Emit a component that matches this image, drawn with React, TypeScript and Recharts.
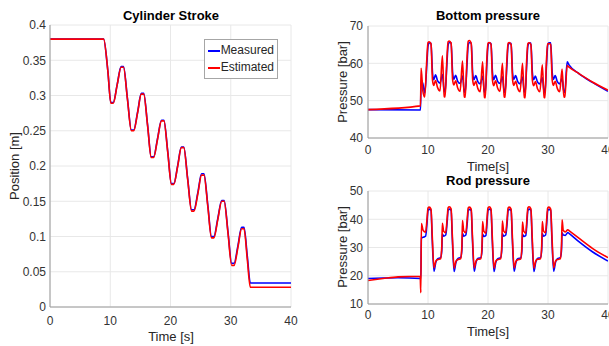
import React from 'react';
import { LineChart, Line, XAxis, YAxis, CartesianGrid, Legend } from 'recharts';

const FONT = '"Liberation Sans", Arial, Helvetica, sans-serif';
const TICK_COLOR = '#333333';
const BOX = '#9a9a9a';
const GRID = '#e8e8e8';
const BLUE = '#0000ff';
const RED = '#ff0000';

// ---------- tick labels ----------
const timeTicks = [0, 10, 20, 30, 40];
const strokeTicks = [0, 0.05, 0.1, 0.15, 0.2, 0.25, 0.3, 0.35, 0.4];
const bottomTicks = [40, 50, 60, 70];
const rodTicks = [10, 20, 30, 40, 50];
const legendOrder = ['Measured', 'Estimated'];

// ---------- Cylinder stroke ----------
const strokeTime = [0, 8.9, 9.6, 10.1, 10.5, 11.15, 11.8, 12.2, 12.85, 13.5, 13.9, 14.55, 15.15, 15.55,
  16.2, 16.8, 17.2, 17.85, 18.5, 18.9, 19.55, 20.15, 20.55, 21.2, 21.8, 22.2, 22.85, 23.5, 23.9,
  24.55, 25.15, 25.55, 26.2, 26.8, 27.2, 27.85, 28.5, 28.9, 29.55, 30.15, 30.55, 31.2, 31.8, 32.2,
  32.75, 33.25, 40];
const strokeMeasured = [0.38, 0.38, 0.335, 0.29, 0.29, 0.3155, 0.341, 0.341, 0.296, 0.251, 0.251, 0.277, 0.303, 0.303,
  0.258, 0.213, 0.213, 0.239, 0.265, 0.265, 0.22, 0.175, 0.175, 0.201, 0.227, 0.227, 0.182, 0.138, 0.138,
  0.163, 0.189, 0.189, 0.144, 0.1, 0.1, 0.1255, 0.151, 0.151, 0.106, 0.062, 0.062, 0.0875, 0.113, 0.113,
  0.072, 0.034, 0.034];
const strokeEstimated = [0.38, 0.38, 0.335, 0.289, 0.289, 0.315, 0.34, 0.34, 0.295, 0.25, 0.25, 0.276, 0.302, 0.302,
  0.257, 0.212, 0.212, 0.238, 0.264, 0.264, 0.219, 0.174, 0.174, 0.2, 0.226, 0.226, 0.181, 0.136, 0.136,
  0.161, 0.187, 0.187, 0.142, 0.098, 0.098, 0.124, 0.15, 0.15, 0.104, 0.059, 0.059, 0.085, 0.111, 0.111,
  0.067, 0.028, 0.028];

// ---------- Bottom pressure ----------
const bottomTime = [0, 8.75, 8.85, 9.15, 9.45,
  9.8, 10.0, 10.2, 10.5, 10.75, 10.95, 11.25, 11.6, 12.0, 12.4, 12.7, 12.85,
  13.15, 13.35, 13.55, 13.85, 14.1, 14.3, 14.6, 14.95, 15.35, 15.75, 16.05, 16.2,
  16.5, 16.7, 16.9, 17.2, 17.45, 17.65, 17.95, 18.3, 18.7, 19.1, 19.4, 19.55,
  19.8, 20.0, 20.2, 20.5, 20.75, 20.95, 21.25, 21.6, 22.0, 22.4, 22.7, 22.85,
  23.15, 23.35, 23.55, 23.85, 24.1, 24.3, 24.6, 24.95, 25.35, 25.75, 26.05, 26.2,
  26.45, 26.65, 26.85, 27.15, 27.4, 27.6, 27.9, 28.25, 28.65, 29.05, 29.35, 29.5,
  29.75, 29.95, 30.15, 30.45, 30.7, 30.9, 31.2, 31.55, 31.95, 32.35, 32.65, 32.8,
  33.2, 33.5, 35.2, 37.4, 40];
const bottomMeasured = [47.6, 47.5, 55.5, 54.5, 52.0,
  59.5, 64.6, 65.5, 65.4, 57.5, 55.6, 56.9, 55.3, 54.7, 57.0, 52.6, 52.3,
  59.8, 64.8, 65.6, 65.5, 57.6, 55.7, 56.8, 55.2, 54.6, 56.6, 52.5, 52.2,
  59.6, 64.9, 65.6, 65.4, 57.4, 55.6, 56.7, 55.1, 54.5, 56.5, 52.4, 52.1,
  59.5, 64.7, 65.5, 65.3, 57.5, 55.6, 56.8, 55.2, 54.6, 56.4, 52.5, 52.2,
  59.6, 64.8, 65.4, 65.3, 57.4, 55.7, 56.7, 55.1, 54.5, 56.3, 52.4, 52.2,
  59.5, 64.7, 65.4, 65.4, 57.5, 55.6, 56.6, 55.0, 54.5, 56.2, 52.4, 52.1,
  59.6, 64.8, 65.5, 65.5, 57.6, 55.7, 56.7, 55.1, 54.5, 56.0, 52.3, 52.3,
  60.4, 59.6, 57.2, 54.9, 52.5];
const bottomEstimated = [47.6, 48.6, 58.7, 52.5, 51.0,
  61.0, 65.6, 65.8, 65.2, 55.5, 54.1, 55.4, 53.5, 52.6, 62.0, 51.1, 51.0,
  61.2, 65.8, 66.0, 65.4, 55.6, 54.2, 55.3, 53.4, 52.5, 60.6, 51.0, 50.9,
  61.4, 65.9, 66.1, 65.3, 55.5, 54.1, 55.2, 53.3, 52.4, 60.4, 50.9, 50.8,
  61.0, 65.4, 65.6, 65.1, 55.4, 54.0, 55.3, 53.4, 52.5, 60.0, 51.0, 50.9,
  61.1, 65.4, 65.6, 65.0, 55.5, 54.1, 55.2, 53.3, 52.4, 60.0, 50.9, 50.8,
  61.0, 65.3, 65.5, 65.0, 55.4, 54.0, 55.1, 53.2, 52.4, 59.6, 50.9, 50.8,
  61.0, 65.2, 65.3, 65.0, 55.5, 54.1, 55.2, 53.3, 52.4, 58.5, 50.9, 51.0,
  59.4, 59.0, 57.2, 55.0, 52.8];

// ---------- Rod pressure ----------
const rodTime = [0, 2.5, 5, 8.7, 8.8, 8.9, 9.2, 9.6,
  9.85, 10.0, 10.2, 10.5, 10.7, 11.0, 11.3, 11.6, 12.1, 12.3, 12.4, 12.6, 12.95,
  13.2, 13.35, 13.55, 13.85, 14.05, 14.35, 14.65, 14.95, 15.45, 15.65, 15.75, 15.95, 16.3,
  16.55, 16.7, 16.9, 17.2, 17.4, 17.7, 18.0, 18.3, 18.8, 19.0, 19.1, 19.3, 19.65,
  19.85, 20.0, 20.2, 20.5, 20.7, 21.0, 21.3, 21.6, 22.1, 22.3, 22.4, 22.6, 22.95,
  23.2, 23.35, 23.55, 23.85, 24.05, 24.35, 24.65, 24.95, 25.45, 25.65, 25.75, 25.95, 26.3,
  26.5, 26.65, 26.85, 27.15, 27.35, 27.65, 27.95, 28.25, 28.75, 28.95, 29.05, 29.25, 29.6,
  29.8, 29.95, 30.15, 30.45, 30.65, 30.95, 31.25, 31.55, 32.05, 32.25, 32.35, 32.55, 32.9,
  33.3, 33.5, 35.2, 37.4, 40];
const rodMeasured = [19.0, 19.2, 19.3, 19.0, 18.8, 33.4, 33.6, 34.0,
  39.0, 43.0, 43.6, 43.2, 33.0, 21.6, 24.8, 26.0, 26.4, 29.0, 34.8, 34.0, 34.4,
  39.2, 43.1, 43.6, 43.2, 33.2, 21.5, 24.7, 26.0, 26.5, 29.2, 35.0, 34.0, 34.4,
  39.0, 43.0, 43.5, 43.1, 33.0, 21.6, 24.8, 26.1, 26.4, 29.0, 34.8, 33.9, 34.3,
  39.1, 43.1, 43.6, 43.2, 33.1, 21.5, 24.8, 26.0, 26.4, 29.1, 34.9, 34.0, 34.4,
  39.0, 43.0, 43.5, 43.1, 33.0, 21.6, 24.7, 26.0, 26.3, 29.0, 34.8, 33.9, 34.3,
  39.1, 43.1, 43.6, 43.2, 33.1, 21.5, 24.8, 26.1, 26.4, 29.1, 34.9, 34.0, 34.4,
  39.0, 43.0, 43.5, 43.2, 33.0, 21.6, 24.8, 26.0, 26.4, 29.0, 35.2, 34.4, 34.3,
  35.3, 35.0, 32.0, 28.5, 25.2];
const rodEstimated = [18.3, 19.0, 19.6, 19.8, 14.0, 38.5, 36.0, 35.4,
  40.5, 44.0, 44.3, 43.6, 34.5, 22.8, 25.2, 25.7, 26.0, 30.5, 38.6, 35.8, 35.2,
  40.6, 44.1, 44.4, 43.7, 34.6, 22.7, 25.1, 25.7, 26.1, 30.8, 39.5, 35.9, 35.2,
  40.5, 44.0, 44.3, 43.6, 34.5, 22.8, 25.2, 25.8, 26.0, 30.6, 39.2, 35.8, 35.1,
  40.6, 44.0, 44.4, 43.7, 34.6, 22.7, 25.2, 25.7, 26.0, 30.7, 39.4, 35.9, 35.2,
  40.5, 44.0, 44.3, 43.6, 34.5, 22.8, 25.1, 25.7, 25.9, 30.5, 39.0, 35.8, 35.1,
  40.6, 44.1, 44.4, 43.7, 34.6, 22.7, 25.2, 25.8, 26.0, 30.6, 39.2, 35.9, 35.2,
  40.5, 44.0, 44.3, 43.6, 34.5, 22.8, 25.2, 25.7, 26.0, 30.8, 39.8, 36.0, 35.5,
  36.3, 36.0, 33.2, 29.7, 26.4];

const toRows = (t: number[], m: number[], e: number[]) => t.map((x, i) => ({ t: x, m: m[i], e: e[i] }));
const strokeData = toRows(strokeTime, strokeMeasured, strokeEstimated);
const bottomData = toRows(bottomTime, bottomMeasured, bottomEstimated);
const rodData = toRows(rodTime, rodMeasured, rodEstimated);

const renderLegend = (props: any) => {
  const payload = [...(props.payload || [])].sort(
    (a: any, b: any) => legendOrder.indexOf(a.value) - legendOrder.indexOf(b.value));
  return (
    <div style={{ background: '#fff', border: '1px solid #a6a6a6', padding: '2px 3px 2px 3px', fontFamily: FONT, fontSize: 12, color: '#262626', lineHeight: '17px', boxSizing: 'border-box', width: 74 }}>
      {payload.map((p: any) => (
        <div key={p.value} style={{ display: 'flex', alignItems: 'center', whiteSpace: 'nowrap' }}>
          <span style={{ display: 'inline-block', width: 15, height: 2, background: p.color, marginRight: 1 }} />
          <span>{p.value}</span>
        </div>
      ))}
    </div>
  );
};

type PanelProps = {
  data: any[];
  width: number;
  height: number;
  margin: { top: number; right: number; bottom: number; left: number };
  yAxisWidth: number;
  yDomain: [number, number];
  yTicks: number[];
  xTickMargin: number;
  yTickMargin: number;
  legend?: boolean;
};

function Panel({ data, width, height, margin, yAxisWidth, yDomain, yTicks, xTickMargin, yTickMargin, legend }: PanelProps) {
  return (
    <LineChart width={width} height={height} data={data} margin={margin} style={{ fontFamily: FONT }}>
      <CartesianGrid stroke={GRID} strokeWidth={1} />
      <XAxis dataKey="t" type="number" domain={[0, 40]} ticks={timeTicks} allowDataOverflow interval={0}
        tickLine={false} tickSize={0} tickMargin={xTickMargin} axisLine={{ stroke: BOX }}
        tick={{ fill: TICK_COLOR, fontSize: 12, fontFamily: FONT }} height={30} />
      <XAxis xAxisId="top" orientation="top" dataKey="t" type="number" domain={[0, 40]} ticks={timeTicks}
        tick={false} tickLine={false} axisLine={{ stroke: BOX }} height={0} />
      <YAxis type="number" domain={yDomain} ticks={yTicks} allowDataOverflow interval={0}
        tickLine={false} tickSize={0} tickMargin={yTickMargin} axisLine={{ stroke: BOX }}
        tick={{ fill: TICK_COLOR, fontSize: 12, fontFamily: FONT }} width={yAxisWidth} />
      <YAxis yAxisId="right" orientation="right" type="number" domain={yDomain} ticks={yTicks}
        tick={false} tickLine={false} axisLine={{ stroke: BOX }} width={0} />
      {legend && (
        <Legend layout="vertical" align="center" verticalAlign="middle" content={renderLegend}
          wrapperStyle={{ position: 'absolute', left: 204, top: 39, width: 74, height: 36 }} />
      )}
      <Line dataKey="m" name="Measured" type="monotone" stroke={BLUE} strokeWidth={1.6} dot={false} isAnimationActive={false} />
      <Line dataKey="e" name="Estimated" type="monotone" stroke={RED} strokeWidth={1.6} dot={false} isAnimationActive={false} />
    </LineChart>
  );
}

const Txt = ({ x, y, text, bold, rotate, color }: { x: number; y: number; text: string; bold?: boolean; rotate?: boolean; color?: string }) => (
  <div style={{
    position: 'absolute', left: x, top: y, transform: `translate(-50%, -50%)${rotate ? ' rotate(-90deg)' : ''}`,
    fontFamily: FONT, fontSize: 13, fontWeight: bold ? 700 : 400, color: color || '#262626', whiteSpace: 'nowrap', lineHeight: '15px',
  }}>{text}</div>
);

export default function App() {
  return (
    <div style={{ position: 'absolute', left: 0, top: 0, width: 609, height: 346, background: '#fff', overflow: 'hidden' }}>
      <div style={{ position: 'absolute', left: 0, top: 0 }}>
        <Panel data={strokeData} width={300} height={346} margin={{ top: 25, right: 9, bottom: 9, left: 0 }}
          yAxisWidth={50} yDomain={[0, 0.4]} yTicks={strokeTicks} xTickMargin={9} yTickMargin={4} legend />
      </div>
      <div style={{ position: 'absolute', left: 300, top: 0 }}>
        <Panel data={bottomData} width={309} height={175} margin={{ top: 26, right: 1, bottom: 7, left: 0 }}
          yAxisWidth={68} yDomain={[40, 70]} yTicks={bottomTicks} xTickMargin={7} yTickMargin={5} />
      </div>
      <div style={{ position: 'absolute', left: 300, top: 170 }}>
        <Panel data={rodData} width={309} height={176} margin={{ top: 21, right: 1, bottom: 12, left: 0 }}
          yAxisWidth={68} yDomain={[10, 50]} yTicks={rodTicks} xTickMargin={6} yTickMargin={5} />
      </div>
      <Txt x={171} y={15} text="Cylinder Stroke" bold color="#000" />
      <Txt x={14} y={166} text="Position [m]" rotate />
      <Txt x={171} y={336} text="Time [s]" />
      <Txt x={488} y={15} text="Bottom pressure" bold color="#000" />
      <Txt x={342} y={82} text="Pressure [bar]" rotate />
      <Txt x={488} y={166} text="Time[s]" />
      <Txt x={488} y={180} text="Rod pressure" bold color="#000" />
      <Txt x={342} y={247} text="Pressure [bar]" rotate />
      <Txt x={488} y={331} text="Time[s]" />
    </div>
  );
}
